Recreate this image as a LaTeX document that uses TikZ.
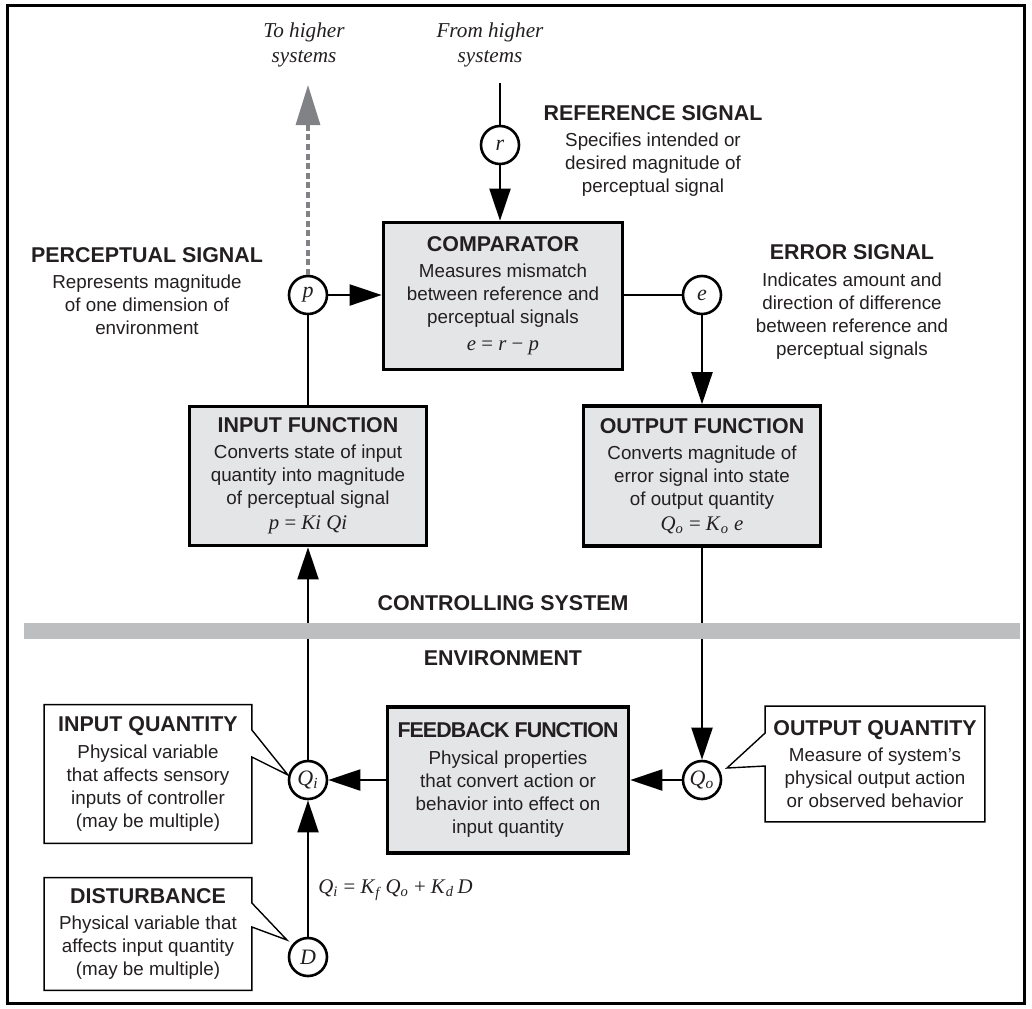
\documentclass[tikz,border=0pt]{standalone}
\usepackage{fontspec}
\setmainfont{Liberation Serif}
\setsansfont{Liberation Sans}
\usetikzlibrary{arrows.meta}
\definecolor{boxgray}{RGB}{228,229,231}
\definecolor{bargray}{RGB}{188,190,192}
\definecolor{dashgray}{RGB}{128,130,134}
\definecolor{ink}{RGB}{35,31,32}
\newcommand{\txtfont}{\fontsize{9.4}{11.5}\selectfont\sffamily}
\newcommand{\ttl}[1]{{\fontsize{10.7}{11.5}\selectfont\bfseries #1}\\[1.6pt]}
\newcommand{\iv}[1]{\textit{#1}}
\newcommand{\fml}[1]{{\rmfamily\fontsize{10.4}{11.5}\selectfont #1}}
\newcommand{\sub}[1]{\textsubscript{\textit{#1}}}

\begin{document}
\begin{tikzpicture}[x=0.5pt,y=-0.5pt]
 \tikzset{fn/.style = {draw, line width=1.8pt, fill=boxgray, inner sep=0pt, align=center, text=ink, font=\txtfont}}
 \tikzset{note/.style = {inner sep=0pt, align=center, text=ink, font=\txtfont}}
 \tikzset{sig/.style = {draw, circle, line width=1.3pt, fill=white, minimum size=19pt, inner sep=0pt, text=ink, font=\rmfamily\itshape\fontsize{11}{12}\selectfont}}
 \tikzset{wire/.style = {line width=1pt}}
 \tikzset{arr/.style = {wire, -{Triangle[length=16pt,width=10.5pt]}}}
 \tikzset{callout/.style = {line width=0.7pt}}
 \useasboundingbox (0,0) rectangle (1032,1008);
 \draw[line width=1.5pt] (7,5) rectangle (1024,1003);

 \node[note, font=\rmfamily\itshape\fontsize{10.6}{12.5}\selectfont] (tohi) at (304,45) {To higher\\systems};
 \node[note, font=\rmfamily\itshape\fontsize{10.6}{12.5}\selectfont] (fromhi) at (490,45) {From higher\\systems};
 \coordinate (uptip) at (308,85);
 \coordinate (downtop) at (500,83);

 \node[fn, minimum width=119.5pt, minimum height=73.5pt] (cmp) at (503,296)
  {\ttl{COMPARATOR}Measures mismatch\\between reference and\\perceptual signals\\[2pt]\fml{\iv{e} = \iv{r} − \iv{p}}};
 \node[fn, minimum width=118.5pt, minimum height=69.5pt] (ifn) at (308,476)
  {\ttl{INPUT FUNCTION}Converts state of input\\quantity into magnitude\\of perceptual signal\\[1pt]\fml{\iv{p} = \iv{Ki Qi}}};
 \node[fn, minimum width=118.5pt, minimum height=70pt] (ofn) at (702,476)
  {\ttl{OUTPUT FUNCTION}Converts magnitude of\\error signal into state\\of output quantity\\[1pt]\fml{\iv{Q}\sub{o} = \iv{K}\sub{o} \iv{e}}};
 \node[fn, minimum width=120.5pt, minimum height=73pt] (fbf) at (508,780)
  {\ttl{\addfontfeature{LetterSpace=-4.5}FEEDBACK FUNCTION}Physical properties\\that convert action or\\behavior into effect on\\input quantity};

 \node[sig] (r) at (500,145) {r};
 \node[sig] (p) at (308,295) {p};
 \node[sig] (e) at (702,295) {e};
 \node[sig] (Qi) at (308,780) {Q\sub{i}};
 \node[sig] (Qo) at (702,780) {Q\sub{o}};
 \node[sig] (D) at (308,957) {D};

 \node[note] (refsig) at (653,151) {\ttl{REFERENCE SIGNAL}Specifies intended or\\desired magnitude of\\perceptual signal};
 \node[note] (persig) at (147,291) {\ttl{PERCEPTUAL SIGNAL}Represents magnitude\\of one dimension of\\environment};
 \node[note] (errsig) at (852,302) {\ttl{ERROR SIGNAL}Indicates amount and\\direction of difference\\between reference and\\perceptual signals};

 \node[note, minimum width=103.5pt, minimum height=69pt] (iq) at (148,774) {\ttl{INPUT QUANTITY}Physical variable\\that affects sensory\\inputs of controller\\(may be multiple)};
 \node[note, minimum width=103.5pt, minimum height=56pt] (dst) at (148,934) {\ttl{DISTURBANCE}Physical variable that\\affects input quantity\\(may be multiple)};
 \node[note, minimum width=109.5pt, minimum height=57.5pt] (oq) at (875,764) {\ttl{OUTPUT QUANTITY}Measure of system’s\\physical output action\\or observed behavior};

 \draw[callout] (iq.north west) -- (iq.north east) -- (iq.east |- 0,730) -- ([shift={(-20,-5)}]Qi.center) -- (iq.east |- 0,757) -- (iq.south east) -- (iq.south west) -- cycle;
 \draw[callout] (dst.north west) -- (dst.north east) -- (dst.east |- 0,903) -- ([shift={(-21,-17)}]D.center) -- (dst.east |- 0,927) -- (dst.south east) -- (dst.south west) -- cycle;
 \draw[callout] (oq.north east) -- (oq.north west) -- (oq.west |- 0,733) -- ([shift={(25,-12)}]Qo.center) -- (oq.west |- 0,766) -- (oq.south west) -- (oq.south east) -- cycle;

 \draw[wire] (downtop) -- (r);
 \draw[arr] (r) -- (r |- cmp.north);
 \draw[arr] (p) -- (p -| cmp.west);
 \draw[wire] (cmp.east |- e) -- (e);
 \draw[arr] (e) -- (ofn.north);
 \draw[wire] (p) -- (ifn.north);
 \draw[line width=1.6pt, dashgray, dash pattern=on 3pt off 1.8pt, -{Triangle[length=20pt,width=12pt]}] (p) -- (uptip);
 \draw[arr] (Qi) -- (ifn.south);
 \draw[arr] (ofn.south) -- (Qo);
 \draw[arr] (Qo) -- (fbf.east |- Qo);
 \draw[arr] (fbf.west |- Qi) -- (Qi);
 \draw[arr] (D) -- (Qi);

 \fill[bargray] (24,623) rectangle (1020,639);
 \node[note, font=\fontsize{10.7}{12}\selectfont\sffamily\bfseries] (ctrl) at (503,603) {CONTROLLING SYSTEM};
 \node[note, font=\fontsize{10.7}{12}\selectfont\sffamily\bfseries] (env) at (503,658) {ENVIRONMENT};
 \node[note, anchor=west] (loop) at (318,890) {\fml{\iv{Q}\sub{i} = \iv{K}\sub{f}\,\iv{Q}\sub{o} + \iv{K}\sub{d}\,\iv{D}}};
\end{tikzpicture}
\end{document}
